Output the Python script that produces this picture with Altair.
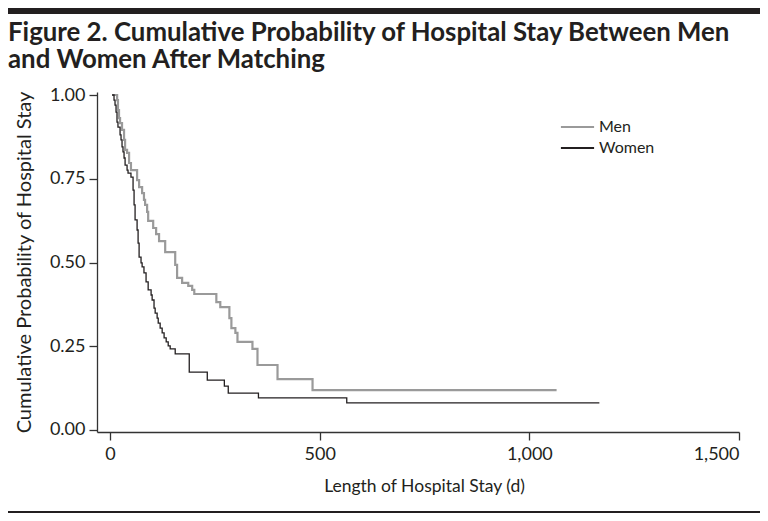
import altair as alt
import pandas as pd

# ---- data ----
series = ["Men", "Women"]
men_day = [5, 17, 19, 21.5, 24, 28.7, 33.5, 36, 40.7, 45.5, 50, 64.6, 69.4, 76.6, 81,
           83.7, 88.5, 91, 103, 110, 117, 131.6, 155.5, 160, 172, 186.6, 196, 201,
           253.6, 263, 284.7, 289.5, 299, 304, 339.7, 351.7, 399.5, 483, 1065]
men_prob = [1.0, 0.985, 0.955, 0.931, 0.916, 0.896, 0.866, 0.836, 0.827, 0.797, 0.776,
            0.746, 0.725, 0.707, 0.687, 0.672, 0.651, 0.624, 0.603, 0.585, 0.564, 0.531,
            0.493, 0.454, 0.439, 0.430, 0.418, 0.406, 0.382, 0.367, 0.334, 0.304, 0.290,
            0.263, 0.242, 0.194, 0.152, 0.119, 0.119]
women_day = [5, 9.6, 12, 14.4, 16.7, 19, 24, 26.3, 28.7, 31, 33.5, 36, 40.7, 43, 50, 55,
             57.4, 59.8, 64.6, 67, 69.4, 74, 76.6, 81, 86, 91, 98, 100.5, 105, 107.7,
             112.4, 115, 119.6, 124.4, 129, 134, 138.8, 143.5, 155.5, 189, 232, 272.7,
             282, 354, 564.6, 1167]
women_prob = [1.0, 0.985, 0.970, 0.949, 0.919, 0.904, 0.881, 0.866, 0.845, 0.830, 0.812,
              0.791, 0.776, 0.767, 0.755, 0.716, 0.672, 0.627, 0.597, 0.558, 0.516, 0.499,
              0.487, 0.469, 0.442, 0.418, 0.403, 0.388, 0.364, 0.349, 0.334, 0.319, 0.304,
              0.290, 0.275, 0.263, 0.251, 0.242, 0.227, 0.173, 0.149, 0.131, 0.110, 0.096,
              0.081, 0.081]
x_ticks = [0, 500, 1000, 1500]
y_ticks = [0, 0.25, 0.5, 0.75, 1.0]
title_lines = ["Figure 2. Cumulative Probability of Hospital Stay Between Men",
               "and Women After Matching"]
x_title = "Length of Hospital Stay (d)"
y_title = "Cumulative Probability of Hospital Stay"

df = pd.concat([
    pd.DataFrame({"day": men_day, "prob": men_prob, "sex": "Men"}),
    pd.DataFrame({"day": women_day, "prob": women_prob, "sex": "Women"}),
], ignore_index=True)

FONT = "Lato"
INK = "#231f20"
W, H = 642, 340

x_enc = alt.X("day:Q", scale=alt.Scale(domain=[-31, 1500], nice=False, zero=False),
              axis=alt.Axis(values=x_ticks, format=",d", title=x_title, titleX=327,
                            titlePadding=14, labelPadding=5, titleFontSize=17.5))
y_enc = alt.Y("prob:Q", scale=alt.Scale(domain=[-0.006, 1.009], nice=False, zero=False),
              axis=alt.Axis(values=y_ticks, format=".2f", title=y_title, titlePadding=15,
                            labelPadding=4, titleFontSize=20))
color_enc = alt.Color("sex:N", scale=alt.Scale(domain=series, range=["#9a9a9a", INK]),
                      legend=alt.Legend(title=None, orient="none", legendX=463, legendY=27,
                                        symbolType="stroke", symbolSize=1100,
                                        symbolStrokeWidth=1.8, labelFont=FONT,
                                        labelFontSize=16, labelColor=INK, labelOffset=4,
                                        clipHeight=16, rowPadding=5, padding=0))

men_line = alt.Chart(df).transform_filter(alt.datum.sex == "Men").mark_line(
    interpolate="step-after", strokeWidth=2.2).encode(x=x_enc, y=y_enc, color=color_enc)
women_line = alt.Chart(df).transform_filter(alt.datum.sex == "Women").mark_line(
    interpolate="step-after", strokeWidth=1.3).encode(x=x_enc, y=y_enc, color=color_enc)

def title_text(txt, ypos):
    return alt.Chart(pd.DataFrame({"t": [txt]})).mark_text(
        align="left", baseline="alphabetic", font=FONT, fontSize=25.8, fontWeight="bold",
        color=INK).encode(text="t:N", x=alt.value(-89), y=alt.value(ypos))

top_bar = alt.Chart(pd.DataFrame({"a": [0]})).mark_rule(color=INK, strokeWidth=6).encode(
    x=alt.value(-89), x2=alt.value(663), y=alt.value(-81))
bottom_bar = alt.Chart(pd.DataFrame({"a": [0]})).mark_rule(color=INK, strokeWidth=2).encode(
    x=alt.value(-89), x2=alt.value(663), y=alt.value(420))

chart = alt.layer(
    men_line, women_line,
    title_text(title_lines[0], -51), title_text(title_lines[1], -24),
    top_bar, bottom_bar,
).properties(
    width=W, height=H,
    autosize=alt.AutoSizeParams(type="none"),
    padding={"left": 89, "top": 84, "right": 21, "bottom": 81},
).configure_view(stroke=None).configure_axis(
    grid=False, domainColor="#333333", domainWidth=1.3, tickColor="#333333",
    tickWidth=1.3, tickSize=8, labelFont=FONT, labelFontSize=18, labelColor=INK,
    titleFont=FONT, titleFontWeight="normal", titleColor=INK,
)

chart.save("out.html", embed_options={"renderer": "svg", "actions": False})
